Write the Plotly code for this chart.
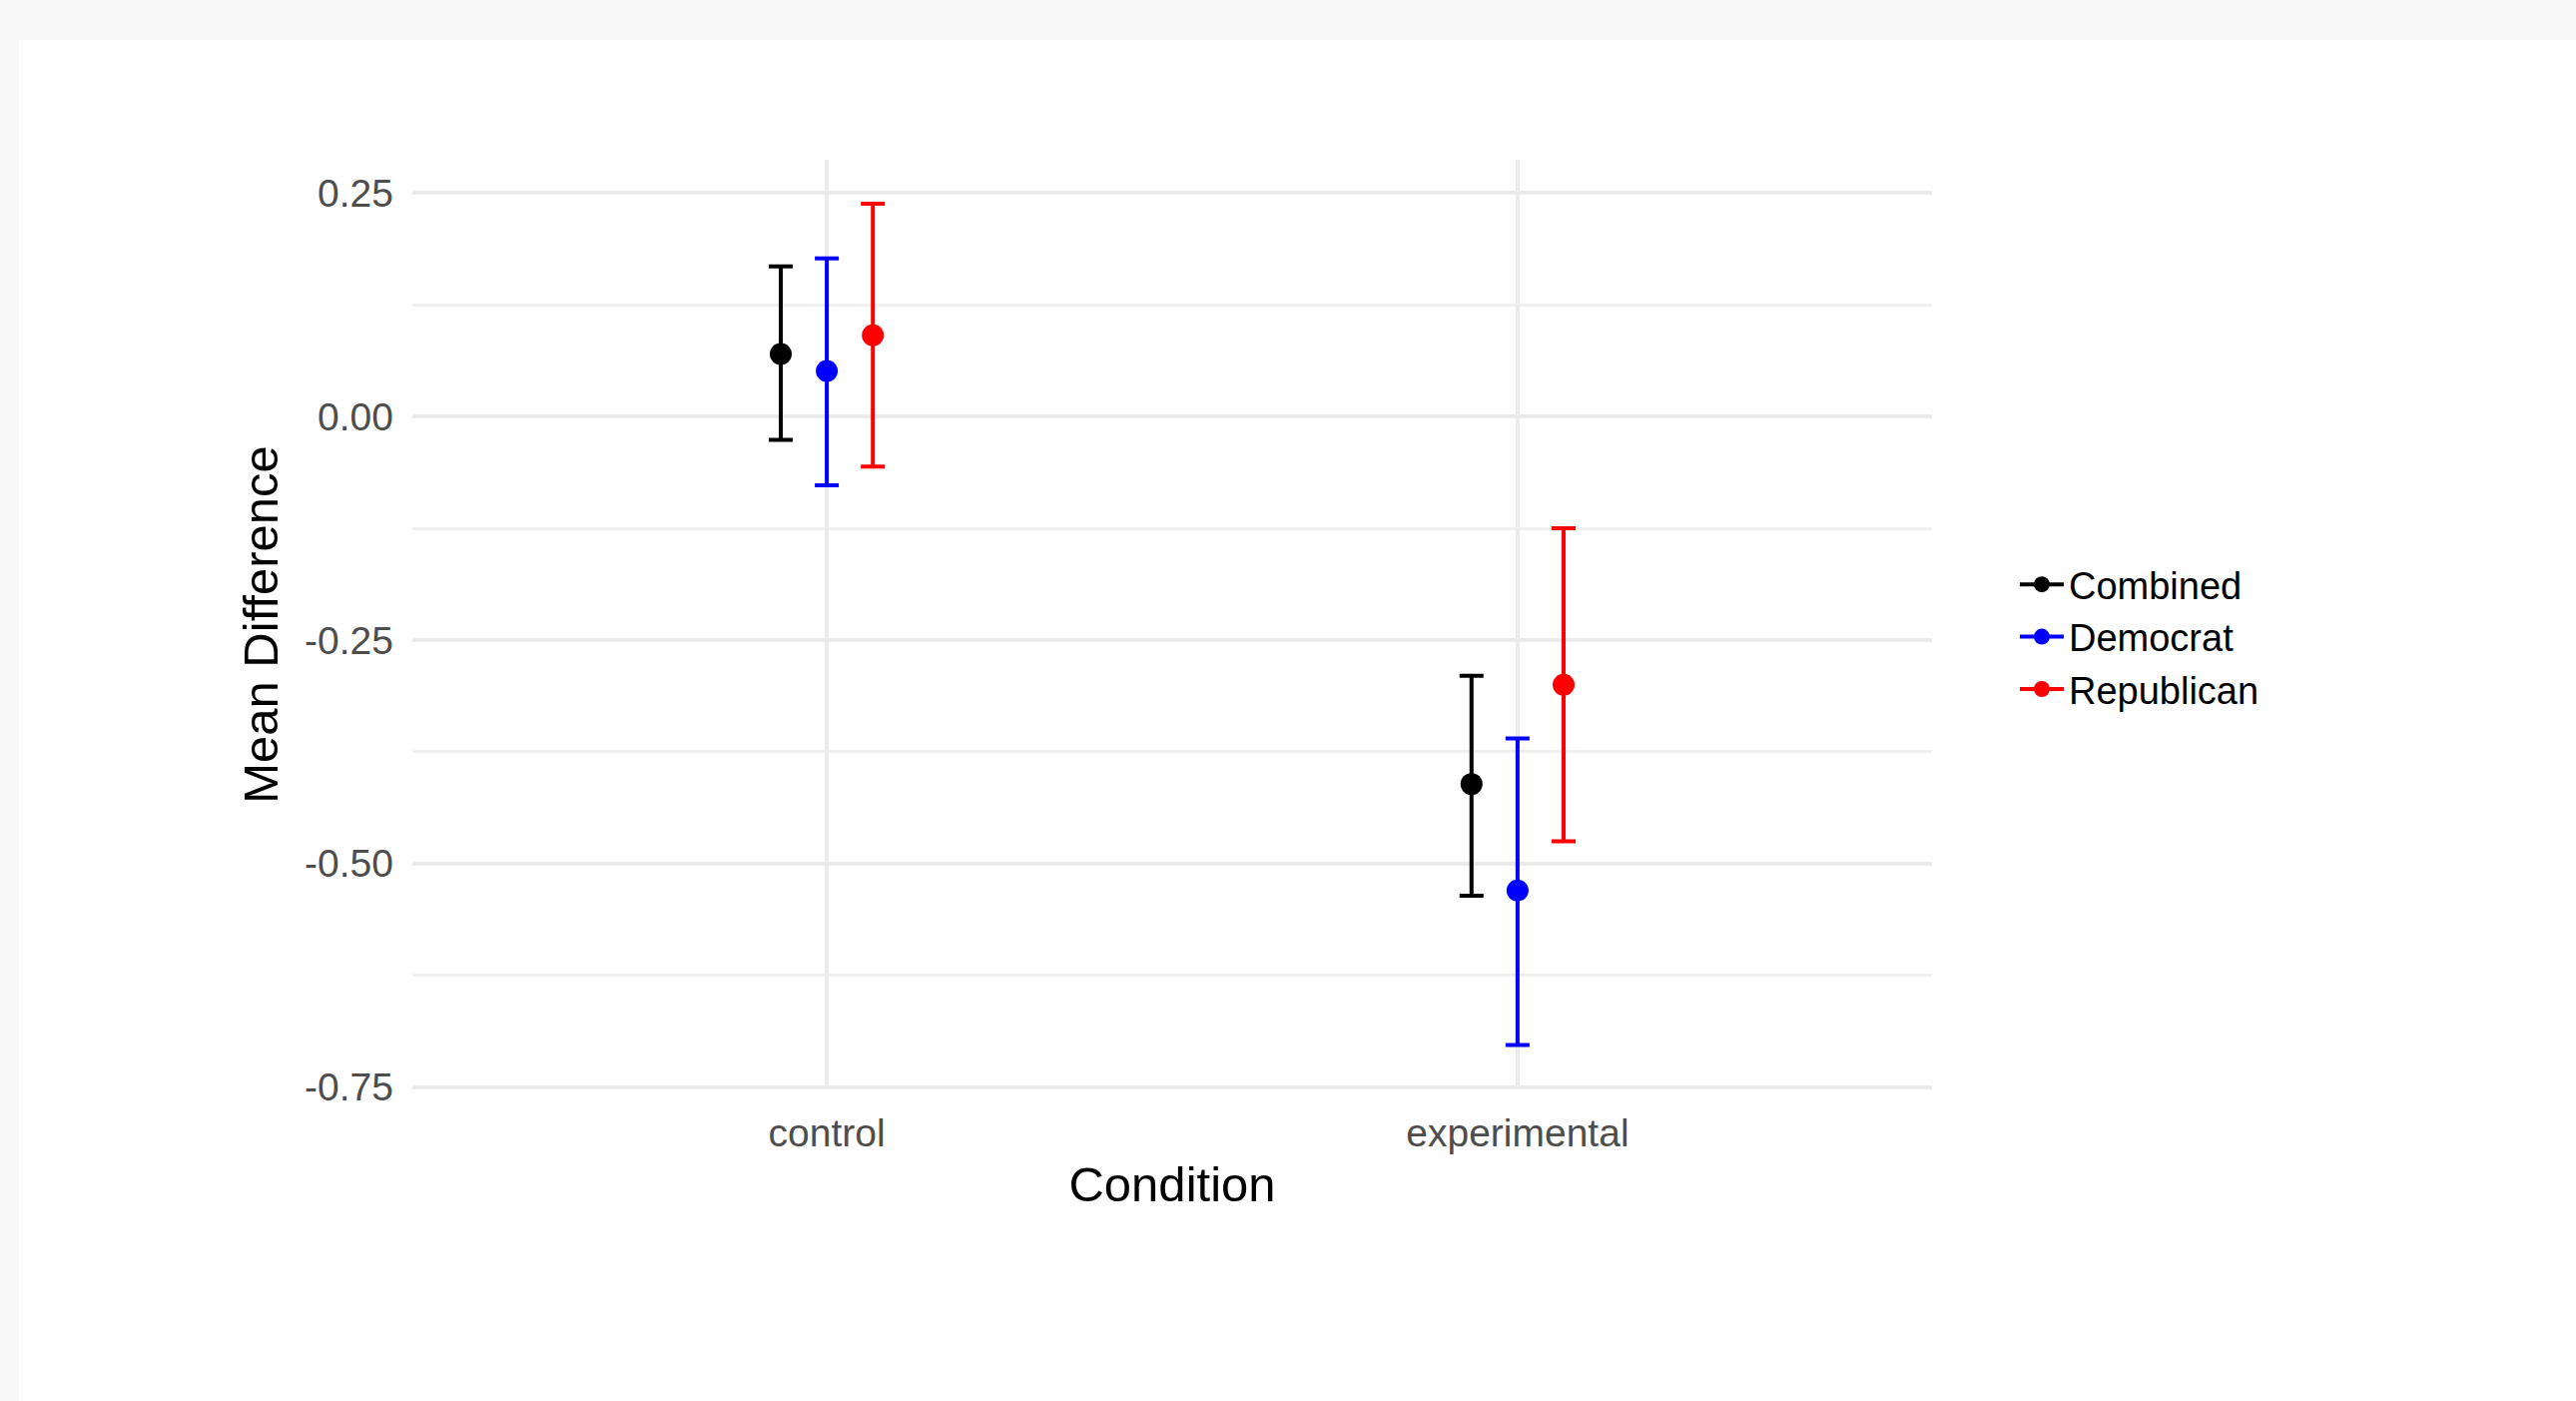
import plotly.graph_objects as go

conditions = ["control", "experimental"]
groups = ["Combined", "Democrat", "Republican"]
colors = ["#000000", "#0000FF", "#FF0000"]

mean_combined = [0.070, -0.411]
lower_combined = [-0.026, -0.536]
upper_combined = [0.168, -0.290]

mean_democrat = [0.051, -0.530]
lower_democrat = [-0.077, -0.703]
upper_democrat = [0.177, -0.360]

mean_republican = [0.091, -0.300]
lower_republican = [-0.056, -0.475]
upper_republican = [0.238, -0.125]

y_tickvals = [-0.75, -0.50, -0.25, 0.00, 0.25]
y_ticktext = ["-0.75", "-0.50", "-0.25", "0.00", "0.25"]

series = [
    (mean_combined, lower_combined, upper_combined),
    (mean_democrat, lower_democrat, upper_democrat),
    (mean_republican, lower_republican, upper_republican),
]

W, H = 2580, 1403
ML, MR, MT, MB = 413, 645, 160, 312
FONT = "Liberation Sans, Arial, sans-serif"

fig = go.Figure()
for name, col, (m, lo, up) in zip(groups, colors, series):
    fig.add_trace(go.Scatter(
        x=conditions, y=m, mode="markers", name=name,
        offsetgroup=name, showlegend=False,
        marker=dict(color=col, size=22),
        error_y=dict(type="data", symmetric=False,
                     array=[u - v for u, v in zip(up, m)],
                     arrayminus=[v - l for v, l in zip(m, lo)],
                     color=col, thickness=4, width=12),
        cliponaxis=False,
    ))
for name, col in zip(groups, colors):
    fig.add_trace(go.Scatter(
        x=[None], y=[None], mode="lines+markers", name=name,
        marker=dict(color=col, size=22), line=dict(color=col, width=4),
    ))

pw = W - ML - MR
ph = H - MT - MB
fig.add_shape(type="rect", xref="paper", yref="paper", layer="below",
              x0=(19 - ML) / pw, x1=(W - ML) / pw,
              y0=-(H - MT - ph) / ph - 0.01, y1=(MT - 40) / ph + 1,
              fillcolor="white", line=dict(width=0))

fig.update_layout(
    width=W, height=H,
    margin=dict(l=ML, r=MR, t=MT, b=MB, pad=0),
    paper_bgcolor="#f8f8f8", plot_bgcolor="white",
    scattermode="group", scattergap=0.8,
    font=dict(family=FONT, size=39, color="black"),
    showlegend=True,
    legend=dict(x=(2018 - ML) / pw, xanchor="left", y=(H - MB - 638) / ph, yanchor="middle",
                font=dict(family=FONT, size=38, color="black"),
                itemwidth=44,
                bgcolor="rgba(0,0,0,0)", tracegroupgap=0),
    xaxis=dict(
        type="category", range=[-0.6, 1.6],
        showgrid=True, gridcolor="#ebebeb", gridwidth=3.5,
        zeroline=False, showline=False, ticks="",
        tickfont=dict(family=FONT, size=39, color="#4d4d4d"),
        ticklabelstandoff=17,
        title=dict(text="Condition", font=dict(family=FONT, size=49, color="black"), standoff=13),
    ),
    yaxis=dict(
        range=[-0.7526, 0.2872],
        tickvals=y_tickvals, ticktext=y_ticktext,
        showgrid=True, gridcolor="#ebebeb", gridwidth=3.5,
        minor=dict(dtick=0.125, tick0=0.125, showgrid=True, gridcolor="#f0f0f0", gridwidth=2.5),
        zeroline=False, showline=False, ticks="",
        tickfont=dict(family=FONT, size=39, color="#4d4d4d"),
        ticklabelstandoff=18,
        title=dict(text="Mean Difference", font=dict(family=FONT, size=49, color="black"), standoff=10),
    ),
)

fig.write_html(
    "out.html",
    config={"displayModeBar": False},
    post_script="document.body.style.margin='0';document.body.style.overflow='hidden';document.body.style.background='#f8f8f8';",
)
